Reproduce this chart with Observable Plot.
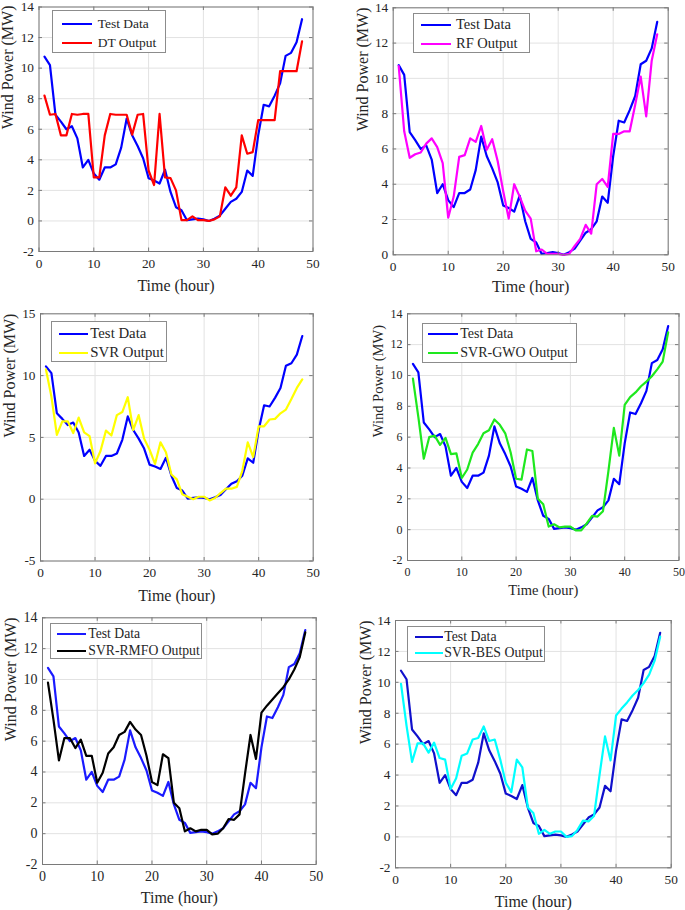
<!DOCTYPE html>
<html><head><meta charset="utf-8">
<script src="https://cdn.jsdelivr.net/npm/d3@7"></script>
<script src="https://cdn.jsdelivr.net/npm/@observablehq/plot@0.6"></script>
<style>
body{margin:0;background:#fff;}
#page{position:relative;width:685px;height:910px;overflow:hidden;font-family:"Liberation Serif","Times New Roman",serif;}
.cell{position:absolute;}
.legend{position:absolute;background:#fff;border:1px solid #8c8c8c;box-sizing:border-box;}
.legend .sw{position:absolute;height:2px;}
.legend .lt{position:absolute;white-space:nowrap;color:#262626;line-height:1;transform:translateY(-52%);}
</style></head><body><div id="page"></div>
<script>
const hours = [1,2,3,4,5,6,7,8,9,10,11,12,13,14,15,16,17,18,19,20,21,22,23,24,25,26,27,28,29,30,31,32,33,34,35,36,37,38,39,40,41,42,43,44,45,46,47,48];
const testData = [10.75,10.2,6.95,6.5,6.0,6.2,5.4,3.5,4.0,3.1,2.7,3.5,3.5,3.7,4.8,6.7,5.6,4.9,4.1,2.8,2.65,2.45,3.35,1.9,0.9,0.7,0.05,0.1,0.15,0.1,0.0,0.15,0.35,0.8,1.25,1.45,1.9,3.3,2.95,5.6,7.6,7.5,8.2,9.0,10.8,11.0,11.7,13.2];
const dtOutput = [8.2,6.95,7.0,5.6,5.6,7.0,6.95,7.0,7.0,2.85,2.85,5.6,7.0,6.95,6.95,6.95,5.65,6.95,7.0,3.3,2.35,7.0,2.85,2.8,2.0,0.05,0.05,0.3,0.05,0.05,0.0,0.1,0.3,2.2,1.65,2.2,5.6,4.4,4.5,6.6,6.6,6.6,6.6,9.8,9.8,9.8,9.8,11.75];
const rfOutput = [10.7,7.0,5.5,5.7,5.8,6.3,6.6,6.1,5.2,2.1,3.3,5.55,5.65,6.6,6.4,7.3,5.95,6.55,5.3,3.6,2.05,4.0,3.3,2.5,2.05,0.2,0.3,0.05,0.05,0.05,0.0,0.05,0.5,0.9,1.7,1.2,4.0,4.3,3.85,6.85,6.85,7.0,7.0,8.5,10.1,7.85,11.0,12.5];
const svrOutput = [10.5,8.3,5.2,6.3,6.3,5.35,6.6,5.4,5.1,2.9,3.9,5.55,5.15,6.8,7.05,8.25,5.6,6.8,4.9,4.0,2.85,4.6,3.8,2.0,1.6,0.4,0.2,0.0,0.2,0.2,-0.1,0.1,0.5,0.85,0.85,1.0,2.3,4.6,3.4,5.9,5.9,6.45,6.5,6.95,7.25,8.1,9.0,9.7];
const gwoOutput = [9.8,7.3,4.6,6.0,6.1,5.5,5.95,4.9,4.95,3.35,3.9,5.0,5.55,6.25,6.45,7.15,6.8,6.25,5.0,3.3,3.25,5.2,5.1,2.0,1.65,0.2,0.35,0.15,0.2,0.2,-0.05,-0.05,0.4,0.9,0.85,1.2,3.8,6.6,4.8,8.1,8.6,8.9,9.3,9.6,9.95,10.4,10.9,12.8];
const rmfoOutput = [9.8,7.4,4.75,6.2,6.2,5.55,6.1,5.05,5.05,3.3,3.95,5.2,5.6,6.4,6.6,7.25,6.75,6.4,5.05,3.35,3.15,5.15,4.9,2.0,1.65,0.15,0.35,0.15,0.25,0.25,-0.05,0.0,0.35,0.95,0.9,1.25,3.9,6.4,4.85,7.85,8.3,8.7,9.1,9.5,10.0,10.65,11.45,13.05];
const besOutput = [9.9,7.2,4.85,6.05,6.05,5.45,6.1,5.1,5.0,3.1,3.8,5.25,5.4,6.3,6.4,7.15,6.2,6.3,5.0,3.5,2.9,5.0,4.5,1.9,1.55,0.2,0.45,0.2,0.35,0.35,0.0,0.05,0.45,1.05,1.0,1.35,4.0,6.5,4.95,7.85,8.3,8.7,9.15,9.5,9.95,10.5,11.4,12.95];

const xTicks = [0,10,20,30,40,50];
const yTicksA = [-2,0,2,4,6,8,10,12,14];
const yTicksB = [0,2,4,6,8,10,12,14];
const yTicksC = [-5,0,5,10,15];
const testLabel = "Test Data";
const xLabel = "Time (hour)";
const yLabel = "Wind Power (MW)";

const panels = [
  {name:"DT Output", values:dtOutput, color:"#ff0000", testColor:"#0000ff", yDomain:[-2,14], yTicks:yTicksA,
   box:{left:0,top:0,width:342,height:303}, m:{l:38.5,t:6.5,r:29.5,b:52}, tickFont:13.3, labelFont:16, xDy:34, yDx:-31,
   lg:{left:52,top:10,w:114,h:43,lx:8.7,lw:30,tx:44.7,r1:13.3,r2:32.3,fs:13.5}},
  {name:"RF Output", values:rfOutput, color:"#ff00ff", testColor:"#0000ff", yDomain:[0,14], yTicks:yTicksB,
   box:{left:342,top:0,width:343,height:303}, m:{l:50.7,t:7.3,r:17.3,b:48.7}, tickFont:13.3, labelFont:16, xDy:32.5, yDx:-30.7,
   lg:{left:413,top:13,w:117,h:40,lx:7,lw:30,tx:42,r1:11.3,r2:30.3,fs:14.5}},
  {name:"SVR Output", values:svrOutput, color:"#ffff00", testColor:"#0000ff", yDomain:[-5,15], yTicks:yTicksC,
   box:{left:0,top:303,width:342,height:303}, m:{l:40,t:10.3,r:29.3,b:45.5}, tickFont:13.3, labelFont:16, xDy:34.5, yDx:-31,
   lg:{left:51,top:320.7,w:116,h:41.6,lx:6.7,lw:29.6,tx:38.3,r1:12.6,r2:31,fs:14.8}},
  {name:"SVR-GWO Output", values:gwoOutput, color:"#1ee81e", testColor:"#0000ff", yDomain:[-2,14], yTicks:yTicksA,
   box:{left:342,top:303,width:343,height:303}, m:{l:65,t:10.3,r:6.5,b:46}, tickFont:12, labelFont:14.5, xDy:30, yDx:-29.5,
   lg:{left:421.7,top:322.7,w:155.6,h:40.6,lx:5.3,lw:29.7,tx:37.6,r1:10.6,r2:29.6,fs:14}},
  {name:"SVR-RMFO Output", values:rmfoOutput, color:"#000000", testColor:"#1a1aff", yDomain:[-2,14], yTicks:yTicksA,
   box:{left:0,top:606,width:342,height:304}, m:{l:42,t:11.3,r:26.3,b:46}, tickFont:14, labelFont:16, xDy:33.7, yDx:-32,
   lg:{left:50,top:623.3,w:151.7,h:36,lx:6,lw:29,tx:37.3,r1:10,r2:26.7,fs:13.7}},
  {name:"SVR-BES Output", values:besOutput, color:"#00ffff", testColor:"#1010cc", yDomain:[-2,14], yTicks:yTicksA,
   box:{left:342,top:606,width:343,height:304}, m:{l:53,t:14,r:14.3,b:42.7}, tickFont:13.3, labelFont:16, xDy:33.7, yDx:-30,
   lg:{left:406.7,top:626,w:138.3,h:35.7,lx:7.3,lw:27.7,tx:36.6,r1:10,r2:26.3,fs:13.8}}
];

const page = document.getElementById("page");
const ink = "#7a7a7a";
const font = '"Liberation Serif","Times New Roman",serif';

for (const p of panels) {
  const fw = p.box.width - p.m.l - p.m.r;
  const fh = p.box.height - p.m.t - p.m.b;
  const rows = hours.map((h, i) => ({h, test: testData[i], out: p.values[i]}));
  const svg = Plot.plot({
    width: p.box.width, height: p.box.height,
    marginLeft: p.m.l, marginTop: p.m.t, marginRight: p.m.r, marginBottom: p.m.b,
    x: {domain: [0, 50]},
    y: {domain: p.yDomain},
    style: {fontFamily: font, fontSize: p.tickFont + "px", color: "#262626", background: "transparent", overflow: "visible"},
    marks: [
      Plot.gridX(xTicks, {stroke: "#e2e2e2", strokeOpacity: 1}),
      Plot.gridY(p.yTicks, {stroke: "#e2e2e2", strokeOpacity: 1}),
      Plot.lineY(rows, {x: "h", y: "test", stroke: p.testColor, strokeWidth: 2.2}),
      Plot.lineY(rows, {x: "h", y: "out", stroke: p.color, strokeWidth: 2.2}),
      Plot.tickX(xTicks, {x: d => d, stroke: ink, insetTop: fh - 3.5}),
      Plot.tickX(xTicks, {x: d => d, stroke: ink, insetBottom: fh - 3.5}),
      Plot.tickY(p.yTicks, {y: d => d, stroke: ink, insetRight: fw - 3.5}),
      Plot.tickY(p.yTicks, {y: d => d, stroke: ink, insetLeft: fw - 3.5}),
      Plot.frame({stroke: ink}),
      Plot.axisX({ticks: xTicks, tickSize: 0, tickPadding: 7, label: null, tickFormat: d => String(d)}),
      Plot.axisY({ticks: p.yTicks, tickSize: 0, tickPadding: 5, label: null, tickFormat: d => String(d)}),
      Plot.text([xLabel], {text: d => d, frameAnchor: "bottom", dy: p.xDy, fontSize: p.labelFont, lineAnchor: "middle", fill: "#262626"}),
      Plot.text([yLabel], {text: d => d, frameAnchor: "left", dx: p.yDx, rotate: -90, fontSize: p.labelFont, lineAnchor: "middle", fill: "#262626"})
    ]
  });
  const cell = document.createElement("div");
  cell.className = "cell";
  cell.style.left = p.box.left + "px";
  cell.style.top = p.box.top + "px";
  cell.appendChild(svg);
  page.appendChild(cell);

  const lg = p.lg;
  const box = document.createElement("div");
  box.className = "legend";
  Object.assign(box.style, {left: lg.left + "px", top: lg.top + "px", width: lg.w + "px", height: lg.h + "px"});
  const entries = [[testLabel, p.testColor, lg.r1], [p.name, p.color, lg.r2]];
  for (const [label, color, ry] of entries) {
    const sw = document.createElement("div");
    sw.className = "sw";
    Object.assign(sw.style, {left: lg.lx + "px", width: lg.lw + "px", top: (ry - 1) + "px", background: color});
    const t = document.createElement("div");
    t.className = "lt";
    t.textContent = label;
    Object.assign(t.style, {left: lg.tx + "px", top: ry + "px", fontSize: lg.fs + "px"});
    box.appendChild(sw);
    box.appendChild(t);
  }
  page.appendChild(box);
}
</script></body></html>
